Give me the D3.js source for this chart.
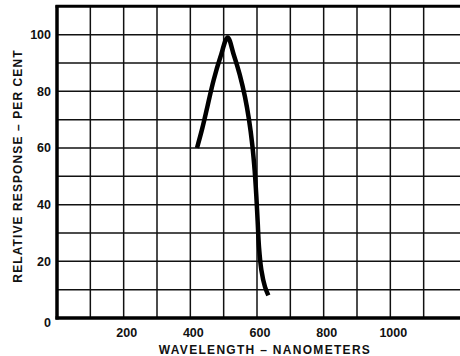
<!DOCTYPE html>
<html>
<head>
<meta charset="utf-8">
<script src="https://cdn.jsdelivr.net/npm/d3@7"></script>
<style>
  body { margin: 0; background: #fff; }
  text { font-family: "Liberation Sans", Arial, sans-serif; font-weight: bold; fill: #111; }
</style>
</head>
<body>
<div id="chart"></div>
<script>
var width = 460, height = 356;

// data
var wavelength = [420, 436, 452, 470, 490, 512, 530, 548, 564, 576, 586, 593, 598, 602, 606, 613, 624, 634];
var response   = [60, 67, 75, 84, 92, 99, 93, 86, 78, 70, 61, 52, 43, 34, 25, 17, 11, 8];

var xTicks = [200, 400, 600, 800, 1000];
var yTicks = [0, 20, 40, 60, 80, 100];
var xGrid = d3.range(100, 1200, 100);
var yGrid = d3.range(10, 110, 10);

var x = d3.scaleLinear().domain([0, 1200]).range([57, 457]);
var y = d3.scaleLinear().domain([0, 110]).range([318, 6.3]);

var svg = d3.select("#chart").append("svg")
    .attr("width", width)
    .attr("height", height);

// grid
svg.append("g").selectAll("line")
  .data(xGrid)
  .enter().append("line")
    .attr("x1", x).attr("x2", x)
    .attr("y1", y(0)).attr("y2", y(110))
    .attr("stroke", "#111")
    .attr("stroke-width", 1.5);

svg.append("g").selectAll("line")
  .data(yGrid)
  .enter().append("line")
    .attr("x1", x(0)).attr("x2", width)
    .attr("y1", y).attr("y2", y)
    .attr("stroke", "#111")
    .attr("stroke-width", 1.5);

// frame: left, top, bottom
svg.append("line")
    .attr("x1", x(0)).attr("x2", x(0))
    .attr("y1", y(110) - 1).attr("y2", y(0) + 1.5)
    .attr("stroke", "#000").attr("stroke-width", 3.5);
svg.append("line")
    .attr("x1", x(0) - 1.5).attr("x2", width)
    .attr("y1", y(110)).attr("y2", y(110))
    .attr("stroke", "#000").attr("stroke-width", 3);
svg.append("line")
    .attr("x1", x(0) - 1.5).attr("x2", width)
    .attr("y1", y(0)).attr("y2", y(0))
    .attr("stroke", "#000").attr("stroke-width", 3.5);

// tick labels
svg.append("g").selectAll("text")
  .data(yTicks)
  .enter().append("text")
    .attr("x", 51)
    .attr("y", function(d) { return y(d) + (d === 0 ? 4 : 0); })
    .attr("dy", "0.36em")
    .attr("text-anchor", "end")
    .style("font-size", "12.5px")
    .text(function(d) { return d; });

svg.append("g").selectAll("text")
  .data(xTicks)
  .enter().append("text")
    .attr("x", function(d) { return x(d) + 3; })
    .attr("y", 337)
    .attr("text-anchor", "middle")
    .style("font-size", "12.5px")
    .text(function(d) { return d; });

// axis titles
svg.append("text")
    .attr("x", 265)
    .attr("y", 354)
    .attr("text-anchor", "middle")
    .style("font-size", "12px")
    .style("letter-spacing", "1.3px")
    .text("WAVELENGTH – NANOMETERS");

svg.append("text")
    .attr("transform", "translate(22,166) rotate(-90)")
    .attr("text-anchor", "middle")
    .style("font-size", "12px")
    .style("letter-spacing", "1.1px")
    .text("RELATIVE RESPONSE – PER CENT");

// response curve
var line = d3.line()
    .x(function(d, i) { return x(wavelength[i]); })
    .y(function(d) { return y(d); })
    .curve(d3.curveCatmullRom.alpha(0.5));

svg.append("path")
    .datum(response)
    .attr("d", line)
    .attr("fill", "none")
    .attr("stroke", "#000")
    .attr("stroke-width", 4.5)
    .attr("stroke-linejoin", "miter");
</script>
</body>
</html>
